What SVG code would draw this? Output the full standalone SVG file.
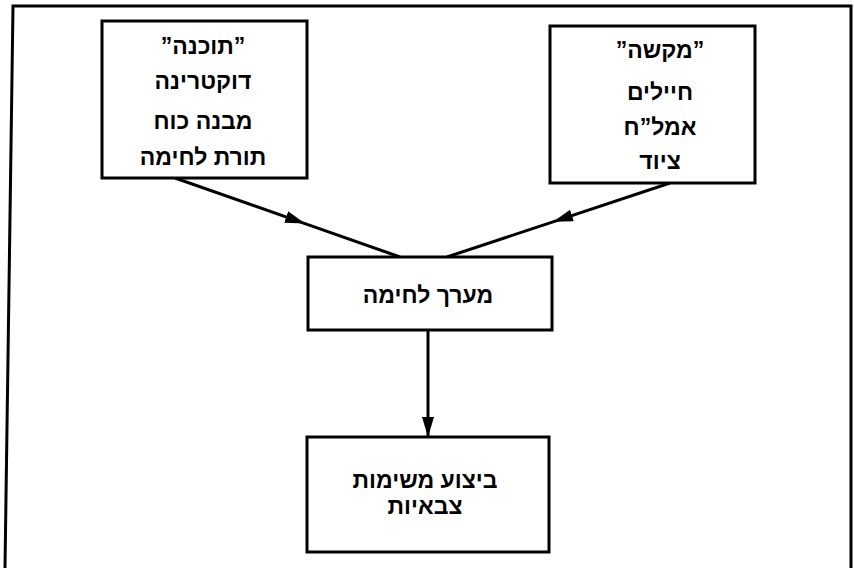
<svg xmlns="http://www.w3.org/2000/svg" width="854" height="568" viewBox="0 0 854 568">
<style>
.frame{fill:none;stroke:#000;stroke-width:3}
.box{fill:#fff;stroke:#000;stroke-width:3}
.conn{fill:none;stroke:#000;stroke-width:3}
text{font-family:"Liberation Sans","DejaVu Sans","Noto Sans",sans-serif;font-weight:bold;font-size:23px;fill:#000;text-anchor:middle;direction:rtl}
</style>
<defs>
<marker id="ah" markerUnits="userSpaceOnUse" markerWidth="20" markerHeight="12" refX="20" refY="6" orient="auto">
<path d="M0,0 L20,6 L0,12 z" fill="#000"/>
</marker>
</defs>
<path class="frame" d="M5,568 L13,6 L851,6 L851,568"/>
<g id="connectors">
<path class="conn" d="M175,178 L305,223.6 L400,257" marker-mid="url(#ah)"/>
<path class="conn" d="M670,183 L553,221.8 L447,257" marker-mid="url(#ah)"/>
<path class="conn" d="M428,330 L428,437" marker-end="url(#ah)"/>
</g>
<g id="plan">
<rect class="box" x="102" y="21" width="205" height="157"/>
<text x="203" y="54">”תוכנה”</text>
<text x="203" y="89">דוקטרינה</text>
<text x="203" y="129">מבנה כוח</text>
<text x="203" y="165">תורת לחימה</text>
</g>
<g id="hardware">
<rect class="box" x="550" y="26" width="205" height="157"/>
<text x="660" y="58">”מקשה”</text>
<text x="660" y="100">חיילים</text>
<text x="660" y="135">אמל”ח</text>
<text x="660" y="169">ציוד</text>
</g>
<g id="battle">
<rect class="box" x="308" y="257" width="244" height="73"/>
<text x="428" y="303">מערך לחימה</text>
</g>
<g id="execution">
<rect class="box" x="307" y="437" width="242" height="115"/>
<text x="425" y="488">ביצוע משימות</text>
<text x="425" y="514">צבאיות</text>
</g>
</svg>
